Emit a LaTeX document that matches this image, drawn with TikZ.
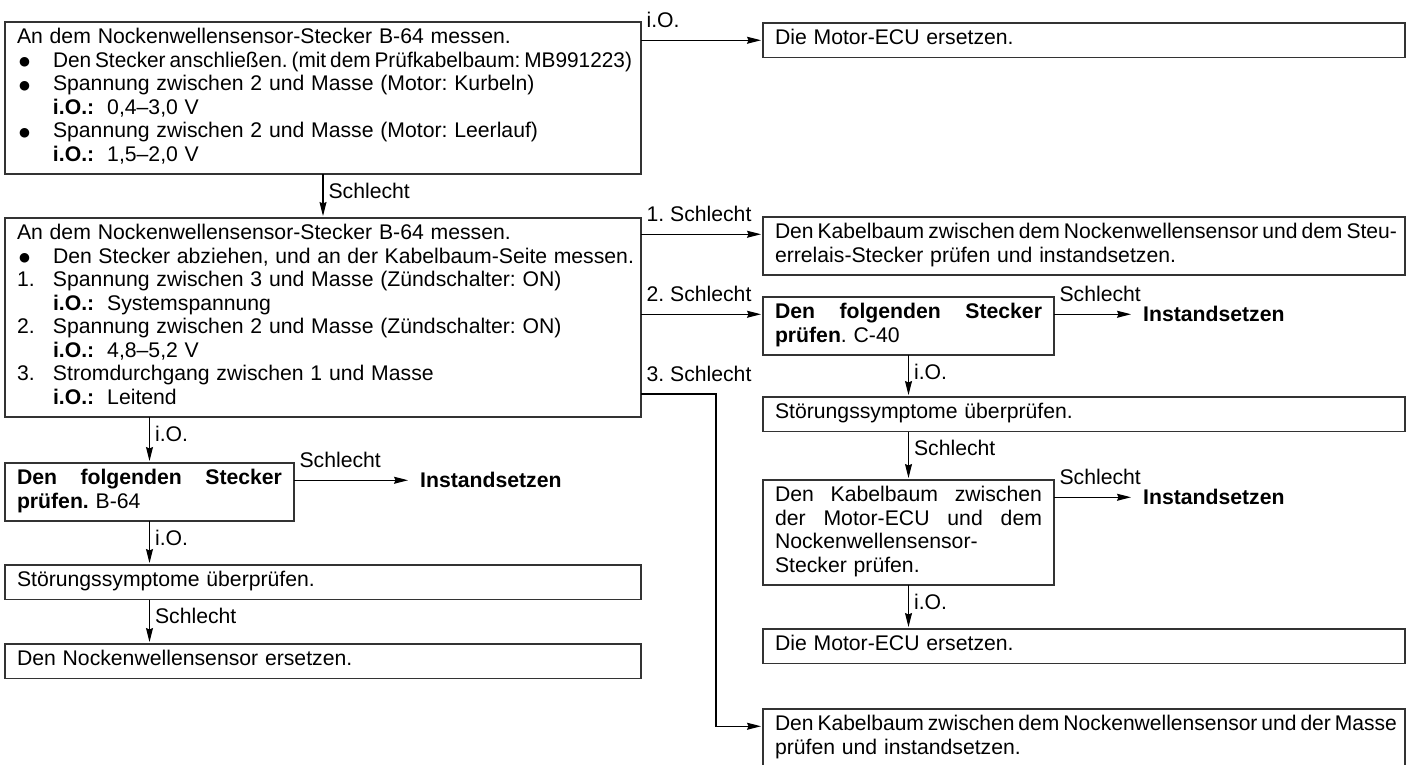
\documentclass[tikz,border=0pt]{standalone}
\usepackage{fontspec}
\setmainfont{Liberation Sans}
\newfontfamily\symfont{DejaVu Sans}
\usetikzlibrary{arrows.meta,calc}
\frenchspacing

% one line of box text: wider word spaces and a strut for an even line pitch
\newcommand\zl[1]{\mbox{\spaceskip=6.8pt plus 4pt minus 1pt\relax\strut#1}}
\newcommand\einzug{\hspace*{36pt}}
\newcommand\punkt{\makebox[36pt][l]{\hspace{2pt}{\symfont\fontsize{12.5}{12.5}\selectfont\raisebox{1.8pt}{●}}}}
\newcommand\nr[1]{\makebox[36pt][l]{#1}}
\newcommand\iO{\textbf{i.O.:}\hspace{13pt}}
% a line squeezed to a given width (narrow word spaces, slightly condensed)
\newcommand\eng[2]{\resizebox{#1}{\height}{\spaceskip=4pt\relax #2}}
% a line justified to a given width
\newcommand\voll[2]{\makebox[#1][s]{#2}}

\tikzset{
  box/.style={draw=black!80, line width=1.2pt, anchor=north west,
    inner xsep=12pt, inner ysep=5.5pt, outer sep=0pt, align=left},
  leftbox/.style={box, text width=612pt},
  rightbox/.style={box, text width=618pt},
  smallbox/.style={box, text width=265pt},
  midbox/.style={box, text width=267pt},
  inst/.style={anchor=west, inner xsep=10pt, inner ysep=0pt, font=\fontsize{21.2}{23.5}\selectfont\bfseries},
  arr/.style={draw=black, line width=1.1pt, -{Stealth[length=14pt,width=7pt,inset=1.5pt]}, shorten >=2pt},
  hlab/.style={anchor=base west, pos=0, xshift=5pt, yshift=13pt, inner sep=0pt},
  vlab/.style={anchor=base west, pos=0, xshift=5pt, yshift=-24pt, inner sep=0pt}
}

\begin{document}
\begin{tikzpicture}[x=1pt, y=-1pt, every node/.style={font=\fontsize{21.2}{23.5}\selectfont}]
\useasboundingbox (0,0) rectangle (1411,764);
\fill[white] (0,0) rectangle (1411,764);
\clip (0,0) rectangle (1411,764);

% ---------- left column ----------
\node[leftbox] (A) at (5,22) {%
\zl{An dem Nockenwellensensor-Stecker B-64 messen.}\\
\zl{\punkt\eng{579pt}{Den Stecker anschließen. (mit dem Prüfkabelbaum: MB991223)}}\\
\zl{\punkt Spannung zwischen 2 und Masse (Motor: Kurbeln)}\\
\zl{\einzug\iO 0,4–3,0 V}\\
\zl{\punkt Spannung zwischen 2 und Masse (Motor: Leerlauf)}\\
\zl{\einzug\iO 1,5–2,0 V}};

\node[leftbox] (B) at (5,218) {%
\zl{An dem Nockenwellensensor-Stecker B-64 messen.}\\
\zl{\punkt\voll{581pt}{Den Stecker abziehen, und an der Kabelbaum-Seite messen.}}\\
\zl{\nr{1.}Spannung zwischen 3 und Masse (Zündschalter: ON)}\\
\zl{\einzug\iO Systemspannung}\\
\zl{\nr{2.}Spannung zwischen 2 und Masse (Zündschalter: ON)}\\
\zl{\einzug\iO 4,8–5,2 V}\\
\zl{\nr{3.}Stromdurchgang zwischen 1 und Masse}\\
\zl{\einzug\iO Leitend}};

\node[smallbox] (C) at (5,463) {%
\zl{\voll{265pt}{\textbf{Den folgenden Stecker}}}\\
\zl{\textbf{prüfen.} B-64}};

\node[leftbox] (StL) at (5,565) {\zl{Störungssymptome überprüfen.}};
\node[leftbox] (NockE) at (5,644) {\zl{Den Nockenwellensensor ersetzen.}};

% ---------- right column ----------
\node[rightbox] (R1) at (763,23) {\zl{Die Motor-ECU ersetzen.}};

\node[rightbox] (R2) at (763,217) {%
\zl{\eng{622pt}{Den Kabelbaum zwischen dem Nockenwellensensor und dem Steu-}}\\
\zl{errelais-Stecker prüfen und instandsetzen.}};

\node[midbox] (R3) at (763,297) {%
\zl{\voll{267pt}{\textbf{Den folgenden Stecker}}}\\
\zl{\textbf{prüfen}. C-40}};

\node[rightbox] (StR) at (763,397) {\zl{Störungssymptome überprüfen.}};

\node[midbox] (R5) at (763,480) {%
\zl{\voll{267pt}{Den Kabelbaum zwischen}}\\
\zl{\voll{267pt}{der Motor-ECU und dem}}\\
\zl{Nockenwellensensor-}\\
\zl{Stecker prüfen.}};

\node[rightbox] (R6) at (763,629) {\zl{Die Motor-ECU ersetzen.}};

\node[rightbox] (R7) at (763,709) {%
\zl{\eng{622pt}{Den Kabelbaum zwischen dem Nockenwellensensor und der Masse}}\\
\zl{prüfen und instandsetzen.}};

% ---------- repair targets ----------
\node[inst] (I1) at ($(C.north west)+(405,17.25)$) {Instandsetzen};
\node[inst] (I2) at ($(R3.north west)+(370,17.25)$) {Instandsetzen};
\node[inst] (I3) at ($(R5.north west)+(370,17.25)$) {Instandsetzen};

% entry points of the horizontal connectors
\coordinate (r1in) at ($(R1.north west)+(0,17.25)$);
\coordinate (r2in) at ($(R2.north west)+(0,17.25)$);
\coordinate (r3in) at ($(R3.north west)+(0,17.25)$);
\coordinate (r7in) at ($(R7.north west)+(0,17.25)$);
\coordinate (k3) at (716,394);

% ---------- connectors ----------
\draw[arr] (A.east |- r1in) -- node[hlab] {i.O.} (r1in);
\draw[arr] (A.south) -- node[vlab] {Schlecht} (B.north);

\draw[arr] (B.east |- r2in) -- node[hlab] {1. Schlecht} (r2in);
\draw[arr] (B.east |- r3in) -- node[hlab] {2. Schlecht} (r3in);
\draw[arr] (B.east |- k3) -- node[hlab] {3. Schlecht} (k3) |- (r7in);

\draw[arr] (B.south -| C.north) -- node[vlab] {i.O.} (C.north);
\draw[arr] (C.east |- I1.west) -- node[hlab] {Schlecht} (I1.west);
\draw[arr] (C.south) -- node[vlab] {i.O.} (StL.north -| C.south);
\draw[arr] (StL.south -| C.south) -- node[vlab] {Schlecht} (NockE.north -| C.south);

\draw[arr] (R3.east |- I2.west) -- node[hlab] {Schlecht} (I2.west);
\draw[arr] (R3.south) -- node[vlab] {i.O.} (StR.north -| R3.south);
\draw[arr] (StR.south -| R5.north) -- node[vlab] {Schlecht} (R5.north);
\draw[arr] (R5.east |- I3.west) -- node[hlab] {Schlecht} (I3.west);
\draw[arr] (R5.south) -- node[vlab] {i.O.} (R6.north -| R5.south);
\end{tikzpicture}
\end{document}
